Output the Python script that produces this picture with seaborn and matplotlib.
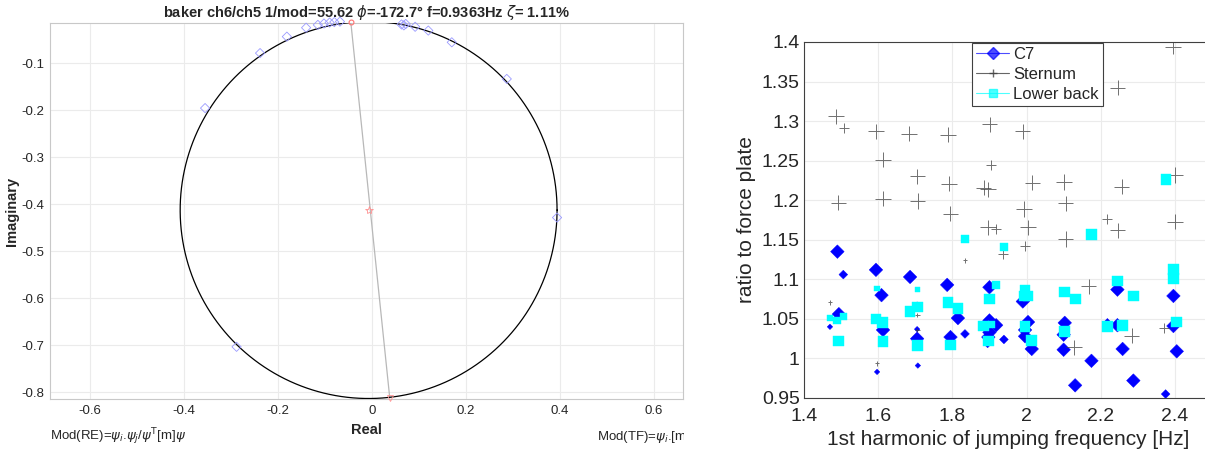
#! /usr/bin/env python3
# vim: et:ts=4:sw=4:fenc=utf-8

import matplotlib
matplotlib.use("Agg")
import matplotlib.pyplot as plt
from matplotlib.lines import Line2D
from matplotlib.transforms import Bbox, TransformedBbox
import numpy as np
import pandas as pd
import seaborn as sns

# ---- left panel: nyquist circle fit --------------------------------------
nyq_re = [-0.355, -0.238, -0.181, -0.140, -0.115, -0.102, -0.090, -0.080, -0.068,
          0.063, 0.068, 0.072, 0.092, 0.120, 0.170, 0.287, 0.394, -0.288]
nyq_im = [-0.195, -0.078, -0.043, -0.024, -0.018, -0.015, -0.013, -0.012, -0.011,
          -0.017, -0.019, -0.016, -0.022, -0.030, -0.055, -0.133, -0.428, -0.703]
circle_center = (-0.007, -0.412)
circle_radius = 0.401
peak_point = (-0.045, -0.011)
opposite_point = (0.038, -0.812)

# ---- right panel: ratio to force plate -----------------------------------
c7_freq = [1.490, 1.506, 1.594, 1.609, 1.686, 1.786, 1.900, 1.470, 1.494, 1.613,
           1.597, 1.707, 1.705, 1.705, 1.705, 1.815, 1.795, 1.834, 1.900, 1.918,
           1.900, 1.897, 1.895, 1.939, 1.990, 2.004, 1.996, 1.996, 2.014, 2.103,
           2.100, 2.100, 2.131, 2.175, 2.218, 2.245, 2.245, 2.259, 2.288, 2.375,
           2.396, 2.396, 2.405]
c7_ratio = [1.135, 1.106, 1.112, 1.080, 1.103, 1.093, 1.090, 1.040, 1.056, 1.036,
            0.983, 0.991, 1.025, 1.037, 1.068, 1.051, 1.027, 1.031, 1.048, 1.042,
            1.033, 1.027, 1.017, 1.024, 1.072, 1.046, 1.036, 1.028, 1.012, 1.045,
            1.011, 1.030, 0.966, 0.997, 1.045, 1.087, 1.042, 1.012, 0.972, 0.955,
            1.079, 1.041, 1.009]
c7_level = [3, 2, 3, 3, 3, 3, 3, 1, 3, 3,
            1, 1, 3, 1, 1, 3, 3, 2, 3, 3,
            3, 3, 1, 2, 3, 3, 3, 3, 3, 3,
            3, 3, 3, 3, 2, 3, 3, 3, 3, 2,
            3, 3, 3]

sternum_freq = [1.486, 1.508, 1.594, 1.683, 1.788, 1.901, 1.990, 2.246, 2.395, 1.613,
                1.904, 1.705, 1.791, 1.885, 1.896, 2.015, 2.101, 1.492, 1.613, 1.707,
                2.106, 2.257, 2.400, 1.993, 1.794, 2.217, 2.246, 2.400, 1.896, 1.917,
                2.004, 1.996, 2.106, 1.936, 1.834, 2.168, 1.470, 2.128, 2.284, 2.370,
                1.597, 1.705, 1.705]
sternum_ratio = [1.306, 1.291, 1.287, 1.284, 1.283, 1.296, 1.287, 1.342, 1.394, 1.251,
                 1.245, 1.230, 1.221, 1.216, 1.214, 1.222, 1.223, 1.197, 1.202, 1.199,
                 1.196, 1.217, 1.232, 1.189, 1.183, 1.176, 1.162, 1.173, 1.166, 1.164,
                 1.166, 1.142, 1.151, 1.132, 1.124, 1.091, 1.071, 1.014, 1.029, 1.039,
                 0.994, 1.036, 1.055]
sternum_level = [3, 2, 3, 3, 3, 3, 3, 3, 3, 3,
                 2, 3, 3, 3, 3, 3, 3, 3, 3, 3,
                 3, 3, 3, 3, 3, 2, 3, 3, 3, 2,
                 3, 2, 3, 2, 1, 3, 1, 3, 3, 2,
                 1, 1, 1]

lower_freq = [1.470, 1.489, 1.506, 1.494, 1.597, 1.594, 1.612, 1.613, 1.705, 1.686,
              1.705, 1.705, 1.788, 1.815, 1.795, 1.834, 1.900, 1.917, 1.884, 1.897,
              1.905, 1.940, 1.996, 1.993, 2.004, 1.996, 2.014, 2.175, 2.103, 2.131,
              2.103, 2.218, 2.245, 2.259, 2.288, 2.396, 2.396, 2.405, 2.376]
lower_ratio = [1.051, 1.048, 1.053, 1.022, 1.088, 1.050, 1.045, 1.021, 1.087, 1.059,
               1.065, 1.016, 1.071, 1.063, 1.017, 1.151, 1.075, 1.093, 1.041, 1.022,
               1.043, 1.141, 1.086, 1.079, 1.079, 1.040, 1.023, 1.157, 1.084, 1.075,
               1.034, 1.040, 1.098, 1.042, 1.079, 1.112, 1.101, 1.046, 1.226]
lower_level = [1, 2, 2, 3, 1, 3, 3, 3, 1, 3,
               3, 3, 3, 3, 3, 2, 3, 2, 3, 3,
               2, 2, 3, 3, 3, 3, 3, 3, 3, 3,
               3, 3, 3, 3, 3, 3, 3, 3, 3]

x_ticks = [1.4, 1.6, 1.8, 2.0, 2.2, 2.4]
y_ticks = [0.95, 1.0, 1.05, 1.1, 1.15, 1.2, 1.25, 1.3, 1.35, 1.4]


def fmt(v):
    return "{:g}".format(round(v, 3))


def configure_plot():
    sns.set_theme(style="whitegrid")
    plt.rcParams['font.family'] = ['Liberation Sans', 'DejaVu Sans']
    plt.rcParams['mathtext.fontset'] = 'dejavusans'
    plt.rcParams['grid.color'] = '#ebebeb'
    plt.rcParams['grid.linewidth'] = 0.8
    plt.rcParams['xtick.direction'] = 'in'
    plt.rcParams['ytick.direction'] = 'in'


def draw_nyquist(ax):
    theta = np.linspace(0, 2 * np.pi, 400)
    ax.plot(circle_center[0] + circle_radius * np.cos(theta),
            circle_center[1] + circle_radius * np.sin(theta),
            color='black', lw=0.9, zorder=3)
    ax.plot([peak_point[0], opposite_point[0]], [peak_point[1], opposite_point[1]],
            color='#b8b8b8', lw=0.9, zorder=2)
    sns.scatterplot(x=nyq_re, y=nyq_im, ax=ax, marker='D', s=22, clip_on=False,
                    facecolor='none', edgecolor='#9a9aff', linewidth=0.6, zorder=4)
    ax.plot(*circle_center, marker='*', ms=6, mfc='none', mec='#ff9090', mew=0.6, zorder=4)
    ax.plot(*peak_point, marker='o', ms=3.5, mfc='none', mec='#ff7070', mew=0.8,
            zorder=4, clip_on=False)
    ax.plot(*opposite_point, marker='v', ms=5, mfc='none', mec='#ff9090', mew=0.6,
            zorder=4, clip_on=False)

    ax.set_xlim(-0.685, 0.662)
    ax.set_ylim(-0.815, -0.013)
    ax.set_aspect('equal', adjustable='box')
    xt = [-0.6, -0.4, -0.2, 0, 0.2, 0.4, 0.6]
    yt = [-0.8, -0.7, -0.6, -0.5, -0.4, -0.3, -0.2, -0.1]
    ax.set_xticks(xt)
    ax.set_xticklabels([fmt(v) for v in xt], fontsize=9.5)
    ax.set_yticks(yt)
    ax.set_yticklabels([fmt(v) for v in yt], fontsize=9.5)
    ax.tick_params(length=3, color='#909090', pad=4)
    for sp in ax.spines.values():
        sp.set_color('#c8c8c8')
        sp.set_linewidth(0.8)
    ax.set_xlabel("Real", fontsize=10.5, fontweight='bold', labelpad=4)
    ax.set_ylabel("Imaginary", fontsize=10.5, fontweight='bold', labelpad=2)
    ax.set_title(r"baker ch6/ch5 1/mod=55.62 $\phi$=-172.7° f=0.9363Hz $\zeta$= 1.11%",
                 fontsize=10.5, fontweight='bold', pad=4)


def draw_ratio(ax):
    size_map = {
        'D': {1: 8, 2: 20, 3: 48},
        '+': {1: 12, 2: 50, 3: 120},
        's': {1: 14, 2: 30, 3: 60},
    }
    series = [
        ("C7", c7_freq, c7_ratio, c7_level, 'D', '#0000ff'),
        ("Sternum", sternum_freq, sternum_ratio, sternum_level, '+', '#404040'),
        ("Lower back", lower_freq, lower_ratio, lower_level, 's', '#00ffff'),
    ]
    handles = []
    for name, fx, fy, lvl, mk, col in series:
        df = pd.DataFrame({"freq": fx, "ratio": fy, "level": lvl})
        sizes = [size_map[mk][l] for l in lvl]
        if mk == '+':
            sns.scatterplot(data=df, x="freq", y="ratio", ax=ax, marker=mk, s=sizes,
                            color=col, linewidth=0.7, alpha=0.75, legend=False, zorder=3)
        else:
            sns.scatterplot(data=df, x="freq", y="ratio", ax=ax, marker=mk, s=sizes,
                            color=col, edgecolor=col, linewidth=0.3, legend=False, zorder=3)
        handles.append(Line2D([], [], color=col, lw=0.8, marker=mk, ms=6,
                              mfc=col, mec=col, alpha=0.7 if mk != '+' else 0.8,
                              label=name))

    ax.set_xlim(1.4, 2.5)
    ax.set_ylim(0.95, 1.4)
    ax.set_xticks(x_ticks)
    ax.set_xticklabels([fmt(v) for v in x_ticks], fontsize=14)
    ax.set_yticks(y_ticks)
    ax.set_yticklabels([fmt(v) for v in y_ticks], fontsize=14)
    ax.tick_params(axis='x', length=4, color='#404040', pad=7)
    ax.tick_params(axis='y', length=4, color='#404040', pad=3)
    for sp in ax.spines.values():
        sp.set_color('#404040')
        sp.set_linewidth(0.8)
    ax.set_xlabel("1st harmonic of jumping frequency [Hz]", fontsize=15, labelpad=4)
    ax.set_ylabel("ratio to force plate", fontsize=15, labelpad=4)
    leg = ax.legend(handles=handles, loc='upper left', bbox_to_anchor=(0.411, 0.997),
                    fontsize=12, frameon=True, fancybox=False, framealpha=1,
                    handlelength=2.0, handletextpad=0.25, borderpad=0.25,
                    labelspacing=0.3, borderaxespad=0)
    leg.get_frame().set_edgecolor('#404040')
    leg.get_frame().set_linewidth(0.8)


def main():
    configure_plot()
    fig = plt.figure(figsize=(12.05, 4.54), dpi=100)
    ax_l = fig.add_axes([50 / 1205, 1 - 405 / 454, 633 / 1205, 388 / 454])
    ax_r = fig.add_axes([804 / 1205, 1 - 398 / 454, 408 / 1205, 356 / 454])

    draw_nyquist(ax_l)
    draw_ratio(ax_r)

    fig.text(50 / 1205, 1 - 437 / 454, r"Mod(RE)=$\psi_i$.$\psi_j$/$\psi^\mathrm{T}$[m]$\psi$",
             fontsize=9.5, va='center', ha='left')
    t = fig.text(597 / 1205, 1 - 437 / 454,
                 r"Mod(TF)=$\psi_i$.[m].$\psi$/$\psi^\mathrm{T}$[m].$\psi$",
                 fontsize=9.5, va='center', ha='left')
    t.set_clip_box(TransformedBbox(Bbox([[0, 0], [684 / 1205, 1]]), fig.transFigure))
    t.set_clip_on(True)

    fig.savefig("out.png", dpi=100)


if __name__ == "__main__":
    main()
